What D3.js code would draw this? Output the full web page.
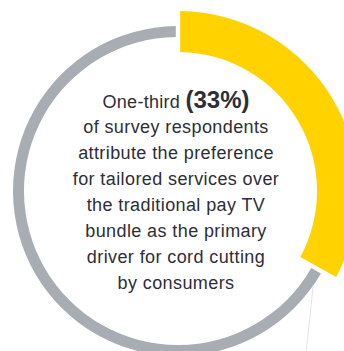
<!DOCTYPE html>
<html>
<head>
<meta charset="utf-8">
<script src="https://cdn.jsdelivr.net/npm/d3@7"></script>
<style>
  html, body { margin: 0; padding: 0; background: #ffffff; }
  svg { display: block; }
</style>
</head>
<body>
<svg id="chart" width="344" height="351"></svg>
<script>
// ---- data ----
const categories = ["Preference for tailored services", "Other drivers"];
const values = [33, 67];
const colors = ["#FFD200", "#A8ADB3"];
const headlineLead = "One-third";
const headlineValue = "(33%)";
const bodyLines = [
  "of survey respondents",
  "attribute the preference",
  "for tailored services over",
  "the traditional pay TV",
  "bundle as the primary",
  "driver for cord cutting",
  "by consumers"
];

// ---- layout ----
const W = 344, H = 351;
const cx = 178, cy = 191;
const svg = d3.select("#chart");
const g = svg.append("g").attr("transform", `translate(${cx},${cy})`);

const pie = d3.pie().sort(null).value(d => d.value).padAngle(0.022);
const data = pie(categories.map((c, i) => ({ name: c, value: values[i] })));

const radii = [
  { inner: 139, outer: 180 },   // highlighted slice
  { inner: 154, outer: 165 }    // remainder
];

data.forEach((d, i) => {
  const arc = d3.arc()
    .innerRadius(radii[i].inner)
    .outerRadius(radii[i].outer)
    .padRadius(200)
    .padAngle(d.padAngle);
  g.append("path")
    .attr("d", arc(d))
    .attr("fill", colors[i]);
});

// faint leader line from the ring edge just past the highlighted slice
const la = data[0].endAngle + 0.1;
const lr = radii[1].outer;
const lx = lr * Math.sin(la), ly = -lr * Math.cos(la);
g.append("line")
  .attr("x1", lx).attr("y1", ly)
  .attr("x2", lx - 7).attr("y2", H - cy)
  .attr("stroke", "#e4e4e4")
  .attr("stroke-width", 1);

// ---- text ----
const font = "'Liberation Sans', Arial, sans-serif";
const tx = 176;
const lineH = 25.9;
const firstBase = 107.5;

const head = svg.append("text")
  .attr("x", tx).attr("y", firstBase)
  .attr("text-anchor", "middle")
  .attr("font-family", font)
  .attr("fill", "#2e2e38");
head.append("tspan")
  .attr("font-size", 18).attr("letter-spacing", 0.3)
  .text(headlineLead + " ");
head.append("tspan")
  .attr("font-size", 24).attr("font-weight", 700)
  .text(headlineValue);

svg.append("g").selectAll("text")
  .data(bodyLines)
  .join("text")
  .attr("x", tx)
  .attr("y", (d, i) => firstBase + (i + 1) * lineH)
  .attr("text-anchor", "middle")
  .attr("font-family", font)
  .attr("font-size", 18)
  .attr("letter-spacing", 0.4)
  .attr("fill", "#2e2e38")
  .text(d => d);
</script>
</body>
</html>
